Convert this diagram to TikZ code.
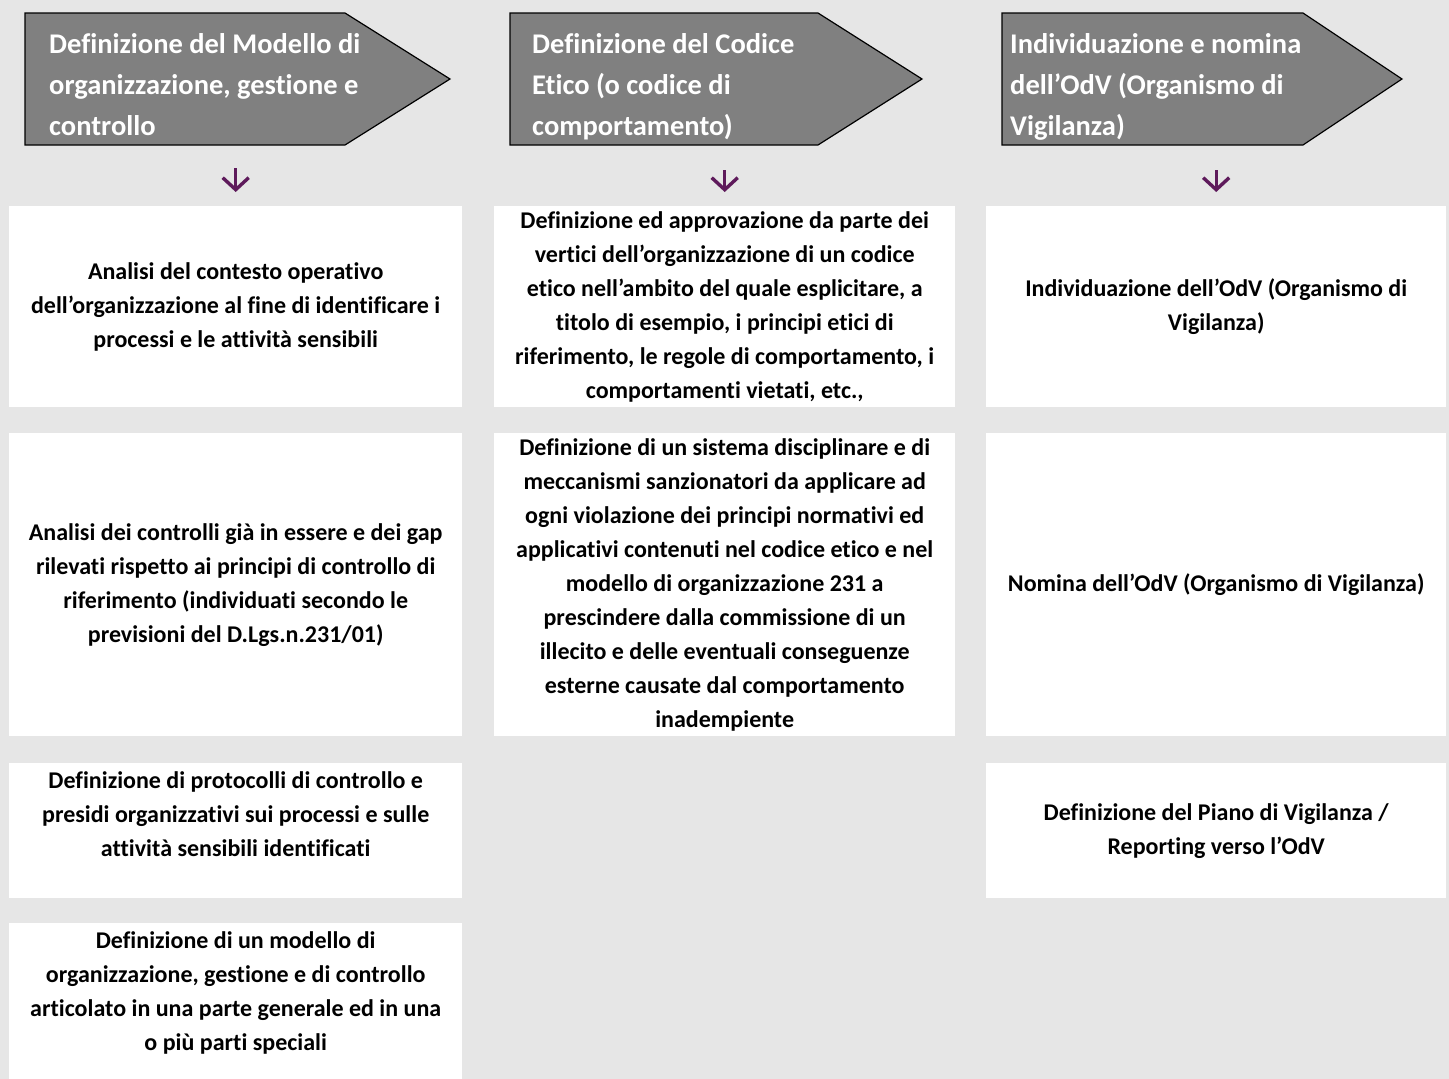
\documentclass[tikz,border=0pt]{standalone}
\usepackage{fontspec}
\setmainfont{Carlito}[Ligatures=NoCommon]
\usetikzlibrary{positioning,arrows.meta,calc}
\definecolor{pagegray}{HTML}{E6E6E6}
\definecolor{headgray}{HTML}{808080}
\definecolor{plum}{HTML}{5E1A5B}
\tikzset{
  headbox/.style={anchor=west, inner sep=0pt, minimum height=132pt, align=left, text=white, font=\fontsize{28.5}{41}\selectfont\bfseries},
  headshape/.style={fill=headgray, draw=black, line width=1.2pt},
  cellbox/.style={anchor=north west, fill=white, inner sep=0pt, align=center, font=\fontsize{24}{34}\selectfont\bfseries},
  downarrow/.style={-{Straight Barb[length=12pt,width=26pt]}, line width=3.4pt, draw=plum, shorten <=17pt, shorten >=14pt}
}
\begin{document}
\begin{tikzpicture}[x=1pt, y=-1pt]
  \useasboundingbox (0,0) rectangle (1449,1079);
  \clip (0,0) rectangle (1449,1079);
  \fill[pagegray] (0,0) rectangle (1449,1079);
  % header arrows
  \filldraw[headshape] (25,13) -- (345,13) -- (450,79) -- (345,145) -- (25,145) -- cycle;
  \filldraw[headshape] (510,13) -- (818,13) -- (922,79) -- (818,145) -- (510,145) -- cycle;
  \filldraw[headshape] (1002,13) -- (1303,13) -- (1402,79) -- (1303,145) -- (1002,145) -- cycle;
  \node[headbox] (modello) at (49,85) {Definizione del Modello di\\organizzazione, gestione e\\controllo};
  \node[headbox] (codice) at (532,87) {Definizione del Codice\\Etico (o codice di\\comportamento)};
  \node[headbox] (odv) at (1010,87) {Individuazione e nomina\\dell’OdV (Organismo di\\Vigilanza)};
  % column 1
  \node[cellbox, minimum width=453pt, minimum height=201pt] (analisi) at (9,206) {Analisi del contesto operativo\\dell’organizzazione al fine di identificare i\\processi e le attività sensibili};
  \node[cellbox, minimum width=453pt, minimum height=303pt] (controlli) at (9,433) {Analisi dei controlli già in essere e dei gap\\rilevati rispetto ai principi di controllo di\\riferimento (individuati secondo le\\previsioni del D.Lgs.n.231/01)};
  \node[cellbox, minimum width=453pt, minimum height=135pt] (protocolli) at (9,763) {Definizione di protocolli di controllo e\\presidi organizzativi sui processi e sulle\\attività sensibili identificati\\\mbox{}};
  \node[cellbox, minimum width=453pt, minimum height=170pt] (mog) at (9,923) {Definizione di un modello di\\organizzazione, gestione e di controllo\\articolato in una parte generale ed in una\\o più parti speciali\\\mbox{}};
  % column 2
  \node[cellbox, minimum width=461pt, minimum height=201pt] (approvazione) at (494,206) {Definizione ed approvazione da parte dei\\vertici dell’organizzazione di un codice\\etico nell’ambito del quale esplicitare, a\\titolo di esempio, i principi etici di\\riferimento, le regole di comportamento, i\\comportamenti vietati, etc.,};
  \node[cellbox, minimum width=461pt, minimum height=303pt] (sanzioni) at (494,433) {Definizione di un sistema disciplinare e di\\meccanismi sanzionatori da applicare ad\\ogni violazione dei principi normativi ed\\applicativi contenuti nel codice etico e nel\\modello di organizzazione 231 a\\prescindere dalla commissione di un\\illecito e delle eventuali conseguenze\\esterne causate dal comportamento\\inadempiente};
  % column 3
  \node[cellbox, minimum width=460pt, minimum height=201pt] (individua) at (986,206) {Individuazione dell’OdV (Organismo di\\Vigilanza)};
  \node[cellbox, minimum width=460pt, minimum height=303pt] (nomina) at (986,433) {Nomina dell’OdV (Organismo di Vigilanza)};
  \node[cellbox, minimum width=460pt, minimum height=135pt] (piano) at (986,763) {Definizione del Piano di Vigilanza /\\Reporting verso l’OdV};
  \draw[downarrow] (modello.south -| analisi.north) -- (analisi.north);
  \draw[downarrow] (codice.south -| approvazione.north) -- (approvazione.north);
  \draw[downarrow] (odv.south -| individua.north) -- (individua.north);
\end{tikzpicture}
\end{document}
